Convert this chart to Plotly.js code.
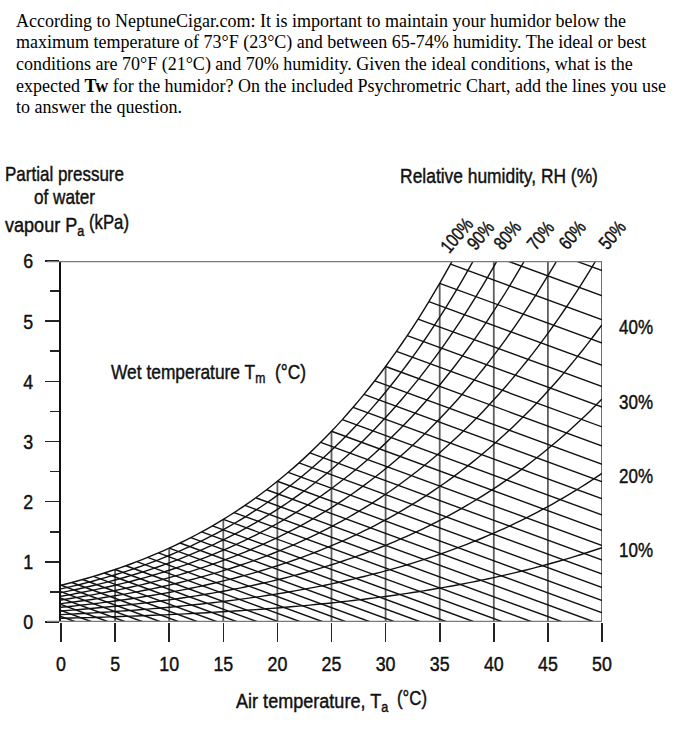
<!DOCTYPE html>
<html>
<head>
<meta charset="utf-8">
<script src="https://cdn.plot.ly/plotly-3.0.1.min.js"></script>
<style>
  html, body { margin: 0; padding: 0; background: #ffffff; }
  #chart { width: 695px; height: 736px; }
</style>
</head>
<body>
<div id="chart"></div>
<script>
// ---------------- DATA ----------------
// Air temperature (°C) and saturation vapour pressure (kPa)
const tempsC = [-5,-4,-3,-2,-1,0,1,2,3,4,5,6,7,8,9,10,11,12,13,14,15,16,17,18,19,20,21,22,23,24,25,26,27,28,29,30,31,32,33,34,35,36,37,38,39,40,41,42,43,44,45,46,47,48,49,50];
const psatKPa = [0.422,0.455,0.490,0.528,0.568,0.611,0.657,0.706,0.758,0.814,0.873,0.935,1.002,1.073,1.148,1.228,1.313,1.403,1.498,1.599,1.706,1.819,1.938,2.065,2.198,2.339,2.488,2.645,2.811,2.986,3.170,3.364,3.568,3.783,4.009,4.247,4.497,4.760,5.035,5.325,5.629,5.948,6.282,6.633,7.000,7.385,7.788,8.210,8.651,9.112,9.595,10.099,10.627,11.177,11.752,12.352];
// Relative humidity curves (%)
const rhLevels = [100, 90, 80, 70, 60, 50, 40, 30, 20, 10];
const rhTopLabels = ['100%', '90%', '80%', '70%', '60%', '50%'];
const rhRightLabels = ['40%', '30%', '20%', '10%'];
// Wet temperature lines (°C), one per degree
const wetTemps = [-5,-4,-3,-2,-1,0,1,2,3,4,5,6,7,8,9,10,11,12,13,14,15,16,17,18,19,20,21,22,23,24,25,26,27,28,29,30,31,32,33,34,35,36,37,38];
const psychroConstKPaPerC = 0.066;
// Air-temperature verticals and axis ticks
const tempVerticals = [5, 10, 15, 20, 25, 30, 35, 40, 45, 50];
const xTickVals = [0, 5, 10, 15, 20, 25, 30, 35, 40, 45, 50];
const yTickVals = [0, 1, 2, 3, 4, 5, 6];
const yMinorTickVals = [0.5, 1.5, 2.5, 3.5, 4.5, 5.5];
const questionLines = [
  'According to NeptuneCigar.com: It is important to maintain your humidor below the',
  'maximum temperature of 73°F (23°C) and between 65-74% humidity. The ideal or best',
  'conditions are 70°F (21°C) and 70% humidity. Given the ideal conditions, what is the',
  'expected <b>Tw</b> for the humidor? On the included Psychrometric Chart, add the lines you use',
  'to answer the question.'
];

// ---------------- LAYOUT GEOMETRY ----------------
const W = 695, H = 736;
const M = { l: 61, r: 93, t: 261, b: 114 };
const PW = W - M.l - M.r, PH = H - M.t - M.b;
const X0 = 0, X1 = 50, Y0 = 0, Y1 = 6;
const pxX = px => (px - M.l) / PW;          // pixel -> paper x
const pxY = py => (H - M.b - py) / PH;      // pixel -> paper y
const SANS = "'Liberation Sans', Arial, sans-serif";
const SERIF = "'Liberation Serif', 'Times New Roman', serif";
const INK = '#111';

function psatAt(t) { return psatKPa[tempsC.indexOf(t)]; }
// temperature where the given RH curve reaches pressure p (linear between table rows)
function tempAtPressure(rh, p) {
  for (let i = 1; i < tempsC.length; i++) {
    const a = rh / 100 * psatKPa[i - 1], b = rh / 100 * psatKPa[i];
    if (a <= p && b >= p) return tempsC[i - 1] + (p - a) / (b - a) * (tempsC[i] - tempsC[i - 1]);
  }
  return null;
}

const traces = [];

// Air temperature verticals (grey), up to the saturation curve or the top
{
  const xs = [], ys = [];
  tempVerticals.forEach(t => {
    xs.push(t, t, null);
    ys.push(0, Math.min(psatAt(t), Y1), null);
  });
  traces.push({ x: xs, y: ys, mode: 'lines', line: { color: '#5e5e5e', width: 1.8 }, hoverinfo: 'skip', showlegend: false });
}

// Wet temperature lines
{
  const xs = [], ys = [];
  wetTemps.forEach(tw => {
    const p = psatAt(tw);
    xs.push(tw, tw + p / psychroConstKPaPerC, null);
    ys.push(p, 0, null);
  });
  traces.push({ x: xs, y: ys, mode: 'lines', line: { color: INK, width: 1.4 }, hoverinfo: 'skip', showlegend: false });
}

// Relative humidity curves
rhLevels.forEach(rh => {
  const xs = [], ys = [];
  tempsC.forEach((t, i) => {
    if (t >= 0) { xs.push(t); ys.push(rh / 100 * psatKPa[i]); }
  });
  traces.push({ x: xs, y: ys, mode: 'lines', line: { color: INK, width: 1.4, shape: 'spline', smoothing: 0.6 }, hoverinfo: 'skip', showlegend: false });
});

// ---------------- ANNOTATIONS ----------------
const annotations = [];
const squish = [];   // horizontal condensing of the chart lettering: {index, width | scale, pivot}
function addLabel(ann, spec) {
  annotations.push(ann);
  if (spec) squish.push(Object.assign({ index: annotations.length - 1 }, spec));
}

questionLines.forEach((txt, i) => {
  addLabel({
    text: txt, xref: 'paper', yref: 'paper', x: pxX(14), y: pxY(21 + i * 21.6),
    xanchor: 'left', yanchor: 'middle', showarrow: false,
    font: { family: SERIF, size: 18, color: '#000' }
  });
});

const labelFont = { family: SANS, size: 21, color: INK };
const lab = (text, px, py, anchor, font) => ({
  text: text, xref: 'paper', yref: 'paper', x: pxX(px), y: pxY(py),
  xanchor: anchor, yanchor: 'middle', showarrow: false, font: font || labelFont
});
addLabel(lab('Partial pressure', 3, 173, 'left'), { width: 119, pivot: 'left' });
addLabel(lab('of water', 32, 197, 'left'), { width: 61, pivot: 'left' });
addLabel(lab('vapour P<sub>a</sub>', 3, 226, 'left'), { width: 80, pivot: 'left' });
addLabel(lab('(kPa)', 87, 222, 'left'), { width: 40, pivot: 'left' });
addLabel(lab('Relative humidity, RH (%)', 398, 175, 'left'), { width: 198, pivot: 'left' });
addLabel(lab('Wet temperature T<sub>m</sub>  (°C)', 109, 373, 'left'), { width: 195, pivot: 'left' });
addLabel(lab('Air temperature, T<sub>a</sub>', 234, 702, 'left'), { width: 153, pivot: 'left' });
addLabel(lab('(°C)', 395, 697, 'left'), { width: 30, pivot: 'left' });

// RH labels above the top edge
const topLabelShift = [4, 7, 10, 16, 15, 16];
rhTopLabels.forEach((txt, i) => {
  const t = tempAtPressure(rhLevels[i], Y1);
  addLabel({
    text: txt, xref: 'x', yref: 'paper', x: t, y: pxY(235), xshift: topLabelShift[i],
    xanchor: 'center', yanchor: 'middle', textangle: -50, showarrow: false,
    font: { family: SANS, size: 19, color: INK }
  }, { scale: 0.8, pivot: 'center' });
});
// RH labels on the right edge
rhRightLabels.forEach((txt, i) => {
  const rh = rhLevels[6 + i];
  addLabel({
    text: txt, xref: 'paper', yref: 'y', x: pxX(617), y: rh / 100 * psatAt(50), yshift: -2,
    xanchor: 'left', yanchor: 'middle', showarrow: false,
    font: { family: SANS, size: 21, color: INK }
  }, { width: 34, pivot: 'left' });
});

// ---------------- SHAPES ----------------
const shapes = [
  { type: 'line', xref: 'paper', yref: 'y', x0: pxX(47), x1: 1, y0: Y1, y1: Y1, line: { color: '#7a7a7a', width: 2.4 } },
  { type: 'line', xref: 'paper', yref: 'y', x0: pxX(47), x1: 1, y0: Y0, y1: Y0, line: { color: '#7a7a7a', width: 2.4 } }
];

const tickFont = { family: SANS, size: 21, color: INK };
const layout = {
  width: W, height: H,
  margin: M,
  paper_bgcolor: '#fff', plot_bgcolor: '#fff',
  showlegend: false,
  xaxis: {
    range: [X0, X1], showgrid: false, zeroline: false, showline: false,
    tickmode: 'array', tickvals: xTickVals, ticktext: xTickVals.map(String),
    ticks: 'outside', ticklen: 19, tickwidth: 1.6, tickcolor: '#222',
    ticklabelstandoff: 4, tickfont: tickFont, fixedrange: true
  },
  yaxis: {
    range: [Y0, Y1], showgrid: false, zeroline: false,
    showline: true, linecolor: INK, linewidth: 1.6,
    tickmode: 'array', tickvals: yTickVals, ticktext: yTickVals.map(String),
    ticks: 'outside', ticklen: 14, tickwidth: 1.6, tickcolor: '#222',
    ticklabelstandoff: 8,
    minor: { tickmode: 'array', tickvals: yMinorTickVals, ticks: 'outside', ticklen: 9, tickwidth: 1.6, tickcolor: '#222' },
    tickfont: tickFont, fixedrange: true
  },
  shapes: shapes,
  annotations: annotations
};

function condense(el, spec) {
  const b = el.getBBox();
  if (!b.width) return;
  const sx = spec.width ? spec.width / b.width : spec.scale;
  const cx = spec.pivot === 'left' ? b.x : spec.pivot === 'right' ? b.x + b.width : b.x + b.width / 2;
  const prev = el.getAttribute('transform') || '';
  el.setAttribute('transform', (prev + ' translate(' + cx + ',0) scale(' + sx + ',1) translate(' + (-cx) + ',0)').trim());
  el.style.stroke = INK;
  el.style.strokeWidth = '0.45px';
}

Plotly.newPlot('chart', traces, layout, { displayModeBar: false, staticPlot: true }).then(gd => {
  squish.forEach(spec => {
    const t = gd.querySelector('g.annotation[data-index="' + spec.index + '"] text.annotation-text');
    if (t) condense(t, spec);
  });
  gd.querySelectorAll('g.xtick text').forEach(t => condense(t, { scale: 0.85, pivot: 'center' }));
  gd.querySelectorAll('g.ytick text').forEach(t => condense(t, { scale: 0.85, pivot: 'right' }));
});
</script>
</body>
</html>
